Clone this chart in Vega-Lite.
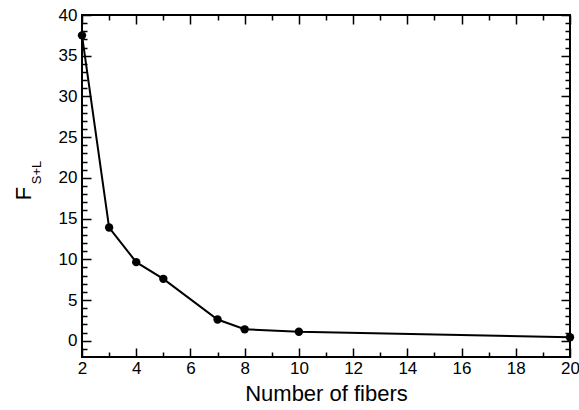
{
  "$schema": "https://vega.github.io/schema/vega-lite/v6.json",
  "autosize": "none",
  "padding": {"left": 82, "top": 15, "right": 9, "bottom": 53},
  "width": 488,
  "height": 342,
  "background": "white",
  "config": {
    "view": {"stroke": "black", "strokeWidth": 2},
    "axis": {"labelFont": "Liberation Sans", "titleFont": "Liberation Sans", "labelColor": "black", "titleColor": "black", "titleFontWeight": "normal"}
  },
  "data": {"values": [
    {"n": 2, "f": 37.5},
    {"n": 3, "f": 13.9},
    {"n": 4, "f": 9.65},
    {"n": 5, "f": 7.6},
    {"n": 7, "f": 2.6},
    {"n": 8, "f": 1.4},
    {"n": 10, "f": 1.1},
    {"n": 20, "f": 0.42}
  ]},
  "resolve": {"scale": {"x": "independent", "y": "independent"}, "axis": {"x": "independent", "y": "independent"}},
  "layer": [
    {
      "mark": {"type": "line", "color": "black", "strokeWidth": 2},
      "encoding": {
        "x": {"field": "n", "type": "quantitative", "scale": {"domain": [2, 20], "nice": false, "zero": false},
          "axis": {"orient": "bottom", "domain": false, "grid": true, "gridColor": "black", "gridWidth": 1.5, "gridOpacity": 1, "gridDash": [9, 324], "values": [2,4,6,8,10,12,14,16,18,20], "ticks": false, "labelFontSize": 17, "labelPadding": 3, "labelFlush": false, "title": "Number of fibers", "titleFontSize": 22, "titlePadding": 7}},
        "y": {"field": "f", "type": "quantitative", "scale": {"domain": [-2, 40], "nice": false, "zero": false},
          "axis": {"orient": "left", "domain": false, "grid": true, "gridColor": "black", "gridWidth": 1.5, "gridOpacity": 1, "gridDash": [9, 470], "values": [0,5,10,15,20,25,30,35,40], "ticks": false, "labelFontSize": 17, "labelPadding": 5, "labelFlush": false, "title": "F", "titleFontSize": 22, "titleAngle": -90, "titleX": -52, "titleY": 178, "titleAlign": "center", "titleBaseline": "alphabetic"}}
      }
    },
    {
      "mark": {"type": "point", "filled": true, "color": "black", "size": 70, "opacity": 1},
      "encoding": {
        "x": {"field": "n", "type": "quantitative", "scale": {"domain": [2, 20], "nice": false, "zero": false},
          "axis": {"orient": "bottom", "labels": false, "ticks": false, "domain": true, "domainOpacity": 0, "title": null, "grid": true, "gridColor": "black", "gridWidth": 1.5, "gridOpacity": 1, "gridDash": [5, 332], "values": [3,5,7,9,11,13,15,17,19]}},
        "y": {"field": "f", "type": "quantitative", "scale": {"domain": [-2, 40], "nice": false, "zero": false},
          "axis": {"orient": "left", "labels": false, "ticks": false, "domain": false, "grid": true, "gridColor": "black", "gridWidth": 1.5, "gridOpacity": 1, "gridDash": [5, 478], "values": [-1,1,2,3,4,6,7,8,9,11,12,13,14,16,17,18,19,21,22,23,24,26,27,28,29,31,32,33,34,36,37,38,39], "title": "S+L", "titleFontSize": 13, "titleAngle": -90, "titleX": -42, "titleY": 157, "titleAlign": "center", "titleBaseline": "alphabetic"}}
      }
    }
  ]
}
